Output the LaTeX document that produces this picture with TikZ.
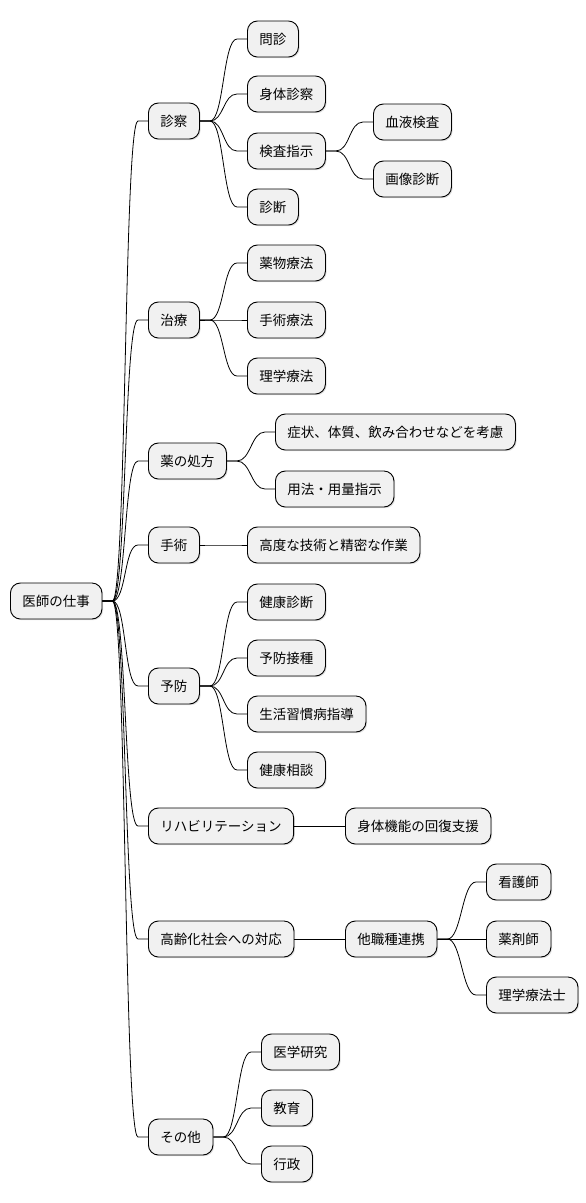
\documentclass[tikz,border=0pt]{standalone}
\usepackage{fontspec}
\setmainfont{Noto Sans CJK JP}
\usetikzlibrary{shadows}
\begin{document}
\begin{tikzpicture}[x=1pt, y=-1pt, font=\fontsize{13.5}{16}\selectfont,
      box/.style={draw, line width=0.9pt, fill=black!5.5, rounded corners=10pt, anchor=west,
        minimum height=36pt, inner xsep=12pt, inner ysep=0pt,
        drop shadow={shadow xshift=1.2pt, shadow yshift=-1.2pt, opacity=0.25}},
      link/.style={draw, line width=0.8pt}]
    \useasboundingbox (0,0) rectangle (586,1203);
    % root
    \node[box] (root) at (10,601) {医師の仕事};
    % first level
    \node[box] (exam)   at (148,121)  {診察};
    \node[box] (treat)  at (148,320)  {治療};
    \node[box] (presc)  at (148,461)  {薬の処方};
    \node[box] (oper)   at (148,545)  {手術};
    \node[box] (prev)   at (148,686)  {予防};
    \node[box] (rehab)  at (148,826)  {リハビリテーション};
    \node[box] (aging)  at (148,939)  {高齢化社会への対応};
    \node[box] (other)  at (148,1137) {その他};
    % second level
    \node[box] (inter)  at (247,39)   {問診};
    \node[box] (phys)   at (247,94)   {身体診察};
    \node[box] (order)  at (247,151)  {検査指示};
    \node[box] (diag)   at (247,207)  {診断};
    \node[box] (drug)   at (247,263)  {薬物療法};
    \node[box] (surg)   at (247,320)  {手術療法};
    \node[box] (physio) at (247,376)  {理学療法};
    \node[box] (consid) at (275,432)  {症状、体質、飲み合わせなどを考慮};
    \node[box] (dosage) at (275,489)  {用法・用量指示};
    \node[box] (skill)  at (247,545)  {高度な技術と精密な作業};
    \node[box] (check)  at (247,602)  {健康診断};
    \node[box] (vacc)   at (247,658)  {予防接種};
    \node[box] (life)   at (247,714)  {生活習慣病指導};
    \node[box] (consult) at (247,770) {健康相談};
    \node[box] (recov)  at (345,826)  {身体機能の回復支援};
    \node[box] (team)   at (345,939)  {他職種連携};
    \node[box] (research) at (261,1052) {医学研究};
    \node[box] (edu)    at (261,1108) {教育};
    \node[box] (admin)  at (261,1164) {行政};
    % third level
    \node[box] (blood)  at (373,122)  {血液検査};
    \node[box] (image)  at (373,179)  {画像診断};
    \node[box] (nurse)  at (486,882)  {看護師};
    \node[box] (pharm)  at (486,939)  {薬剤師};
    \node[box] (pt)     at (486,995)  {理学療法士};
    % connectors
    \foreach \a/\b in {root/exam, root/treat, root/presc, root/oper, root/prev, root/rehab,
        root/aging, root/other, exam/inter, exam/phys, exam/order, exam/diag, order/blood,
        order/image, treat/drug, treat/surg, treat/physio, presc/consid, presc/dosage,
        oper/skill, prev/check, prev/vacc, prev/life, prev/consult, rehab/recov, aging/team,
        team/nurse, team/pharm, team/pt, other/research, other/edu, other/admin}
      \draw[link] (\a.east) -- ++(10,0) .. controls +(14,0) and +(-14,0) .. ([xshift=-10pt]\b.west) -- (\b.west);
  \end{tikzpicture}
\end{document}
